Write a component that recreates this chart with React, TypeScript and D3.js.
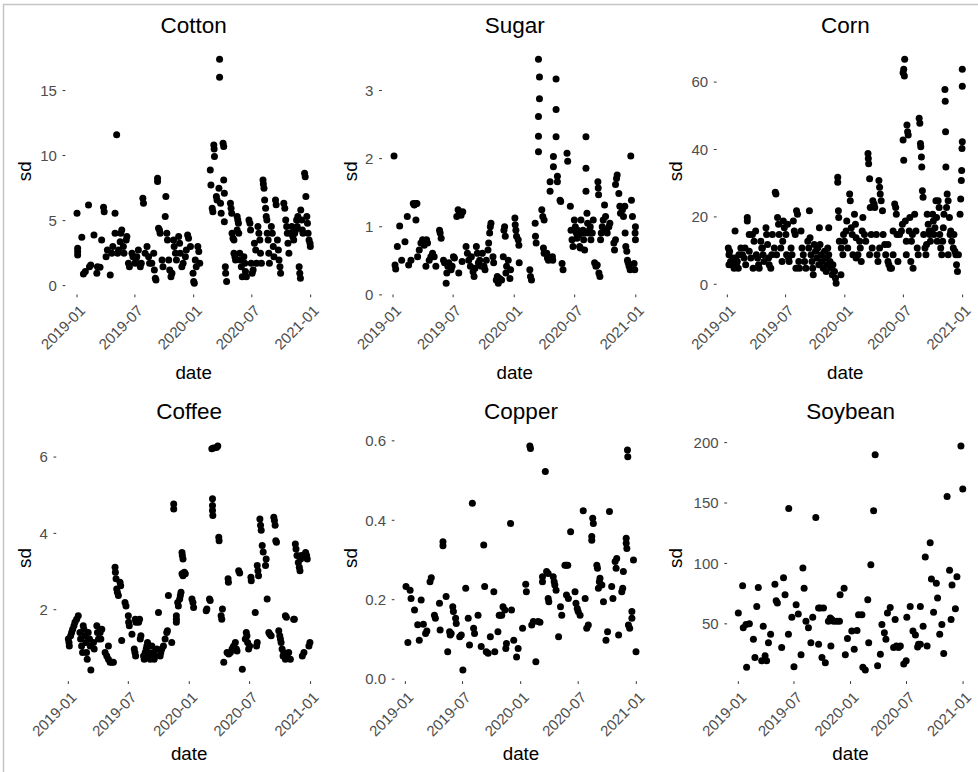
import React from "react";
import * as d3 from "d3";

// ---------- DATA (day = days since 2019-01-01, sd value) ----------
const commodities = ["Cotton", "Sugar", "Corn", "Coffee", "Copper", "Soybean"];
const xTickLabels = ["2019-01", "2019-07", "2020-01", "2020-07", "2021-01"];
const cottonTicks = [0, 5, 10, 15];
const sugarTicks = [0, 1, 2, 3];
const cornTicks = [0, 20, 40, 60];
const coffeeTicks = [2, 4, 6];
const copperTicks = [0, 0.2, 0.4, 0.6];
const soybeanTicks = [50, 100, 150, 200];

const cottonData: [number, number][] = [
  [0,5.56],[2,2.87],[2,2.62],[2,2.36],[15,3.72],[20,0.9],[26,1.08],[36,6.2],[39,1.46],[43,1.59],[53,3.9],[62,0.95],[64,1.46],[72,1.41],[77,3.51],[83,6.03],[85,5.69],[91,2.23],[95,2.74],[104,0.82],[109,2.49],[112,3.0],[119,5.56],[119,4.03],[124,11.6],[127,2.49],[130,2.74],[135,3.38],[137,4.03],[140,4.28],[145,3.0],[147,2.49],[154,3.51],[156,3.77],[161,1.72],[164,1.46],[172,2.49],[175,2.23],[182,1.72],[184,1.97],[187,2.23],[192,2.74],[198,1.46],[201,1.72],[206,6.72],[208,6.33],[213,2.49],[219,3.0],[224,2.23],[227,1.72],[234,1.72],[240,2.49],[242,1.21],[245,0.56],[247,0.44],[252,8.26],[252,8.0],[255,4.41],[258,4.28],[260,4.03],[266,1.97],[269,1.46],[276,5.31],[278,6.85],[281,4.03],[283,3.51],[287,1.97],[290,1.21],[294,0.69],[297,0.95],[302,3.51],[304,3.0],[308,2.49],[311,1.97],[318,3.77],[321,3.26],[323,2.49],[328,1.46],[332,1.72],[339,2.23],[342,2.74],[346,3.9],[349,3.64],[355,3.0],[363,0.95],[365,0.31],[367,0.18],[370,1.97],[373,1.46],[378,3.0],[381,2.62],[384,1.72],[417,8.9],[419,7.74],[423,5.95],[425,5.69],[428,10.82],[429,10.51],[430,9.92],[436,6.85],[438,6.59],[444,7.49],[446,17.41],[446,16.03],[449,6.33],[451,5.56],[457,10.95],[459,10.69],[459,8.13],[461,7.1],[461,4.92],[464,1.46],[465,0.95],[468,0.31],[480,6.33],[482,5.95],[484,5.56],[485,4.03],[488,3.64],[491,3.51],[491,2.49],[494,2.23],[496,1.97],[501,5.31],[503,5.05],[505,4.79],[501,4.28],[506,4.03],[509,2.49],[511,1.97],[514,1.46],[517,0.69],[522,2.23],[525,1.72],[527,1.08],[530,0.69],[538,5.05],[541,4.79],[543,4.28],[545,1.72],[548,0.95],[551,1.21],[555,3.26],[559,2.74],[562,1.72],[566,4.54],[569,4.03],[572,3.51],[574,2.49],[577,1.72],[582,8.13],[583,7.82],[585,7.49],[587,6.59],[590,5.95],[592,5.31],[594,5.05],[595,4.03],[598,3.51],[600,2.49],[602,1.72],[608,4.54],[611,4.03],[614,3.0],[616,2.23],[621,6.59],[623,6.21],[627,3.51],[630,2.74],[632,1.97],[635,1.46],[637,0.95],[647,6.33],[650,5.95],[653,5.05],[656,4.54],[658,4.03],[660,3.26],[663,2.49],[668,4.03],[672,4.54],[675,3.77],[678,3.51],[681,4.03],[684,4.28],[687,5.05],[689,4.54],[691,5.31],[695,1.46],[697,0.95],[699,0.56],[700,5.82],[703,5.05],[705,4.28],[707,4.03],[712,8.64],[714,8.38],[716,6.85],[719,5.31],[721,4.79],[723,4.03],[726,3.51],[729,3.26],[730,3.0]
];

const sugarData: [number, number][] = [
  [3,2.04],[6,0.44],[8,0.38],[13,0.71],[20,1.01],[26,0.51],[36,0.78],[43,1.15],[47,0.44],[54,0.51],[61,1.34],[64,1.32],[69,1.34],[72,1.34],[69,1.1],[74,0.56],[79,0.66],[84,0.76],[89,0.81],[94,0.73],[97,0.78],[101,0.81],[104,0.76],[99,0.42],[109,0.51],[114,0.56],[119,0.61],[124,0.56],[129,0.42],[140,0.95],[142,0.91],[145,0.83],[152,0.51],[155,0.47],[160,0.17],[162,0.32],[165,0.42],[168,0.47],[175,0.37],[178,0.42],[182,0.56],[185,0.54],[192,1.15],[196,1.25],[200,1.2],[205,1.17],[210,1.22],[198,0.32],[208,0.49],[220,0.71],[224,0.61],[228,0.51],[233,0.42],[236,0.56],[241,0.34],[244,0.27],[247,0.39],[251,0.71],[254,0.61],[257,0.47],[261,0.51],[266,0.42],[269,0.61],[274,0.42],[277,0.37],[281,0.51],[286,0.66],[288,0.76],[291,0.91],[293,1.0],[295,1.05],[301,0.56],[303,0.47],[311,0.22],[314,0.27],[317,0.17],[321,0.24],[327,0.22],[332,0.56],[334,0.95],[336,1.0],[338,0.86],[340,0.32],[342,0.42],[347,0.51],[352,0.24],[354,0.37],[367,1.13],[368,1.03],[370,0.95],[372,0.86],[377,0.81],[379,0.73],[380,0.47],[412,0.37],[414,0.27],[417,0.22],[428,1.05],[429,0.86],[431,0.76],[438,3.46],[441,3.2],[441,2.88],[438,2.62],[438,2.33],[438,2.1],[448,1.25],[451,1.15],[455,1.1],[453,0.69],[455,0.61],[463,0.61],[465,0.54],[468,0.51],[480,0.56],[481,0.51],[491,3.17],[491,2.72],[491,2.32],[483,2.03],[483,1.88],[495,1.74],[495,1.66],[473,1.66],[473,1.52],[503,1.39],[505,1.37],[509,0.46],[512,0.37],[524,2.08],[526,1.96],[534,1.3],[536,0.95],[539,0.81],[542,0.71],[546,1.1],[549,1.0],[552,0.91],[554,0.83],[556,0.95],[559,0.88],[562,0.71],[564,0.69],[566,1.1],[569,0.91],[572,0.95],[574,0.81],[577,0.66],[579,0.91],[581,2.32],[581,1.86],[581,1.52],[584,1.2],[586,1.05],[589,0.91],[591,0.95],[594,1.0],[596,0.81],[600,0.91],[603,1.1],[607,0.47],[611,0.42],[615,0.44],[620,0.32],[623,0.27],[617,1.66],[618,1.57],[619,1.47],[625,0.81],[627,0.91],[630,1.0],[633,1.1],[637,1.32],[640,1.15],[643,0.95],[645,0.91],[650,1.0],[653,1.05],[665,0.76],[667,0.66],[670,0.81],[670,1.62],[673,1.71],[675,1.76],[680,1.49],[683,1.3],[685,1.2],[691,1.25],[694,1.15],[698,1.3],[699,0.91],[701,0.71],[704,0.64],[706,0.51],[708,0.47],[711,0.42],[714,0.37],[716,2.04],[718,1.39],[721,1.15],[730,1.0],[729,0.91],[730,0.81],[726,0.46],[728,0.37]
];

const cornData: [number, number][] = [
  [3,10.8],[5,8.8],[7,9.8],[10,6.8],[14,5.8],[16,7.8],[24,15.8],[26,7.8],[28,5.8],[31,6.8],[42,10.8],[47,8.8],[52,7.8],[57,5.8],[62,19.8],[62,18.8],[68,14.8],[68,9.8],[78,14.8],[83,12.8],[88,15.8],[90,8.8],[94,7.8],[97,5.8],[104,12.8],[107,10.8],[111,8.8],[114,6.8],[120,16.8],[122,14.8],[125,11.8],[128,7.8],[130,5.8],[140,14.8],[146,10.8],[149,27.3],[151,26.8],[153,8.8],[156,19.8],[159,17.8],[161,14.8],[166,10.8],[170,6.8],[174,18.8],[177,16.8],[182,14.8],[187,17.8],[190,7.8],[192,6.8],[198,10.8],[201,8.8],[205,18.8],[208,15.8],[211,14.8],[215,21.8],[218,20.8],[222,6.8],[224,4.8],[229,15.8],[232,10.8],[236,8.8],[240,6.8],[244,4.8],[250,12.8],[253,10.8],[255,21.8],[260,8.8],[263,6.8],[265,4.8],[270,11.8],[274,9.8],[278,7.8],[281,10.8],[284,5.8],[286,16.8],[291,8.8],[294,6.8],[298,4.8],[302,9.8],[305,7.8],[309,5.8],[312,10.8],[315,8.8],[319,6.8],[322,4.8],[326,2.8],[328,5.8],[333,3.8],[336,1.8],[338,0.3],[343,31.8],[343,30.3],[345,21.8],[346,19.8],[348,12.8],[354,10.8],[359,8.8],[364,12.8],[369,15.8],[371,18.8],[374,10.8],[380,26.8],[382,24.8],[385,16.8],[388,14.8],[390,8.8],[395,20.8],[398,17.8],[400,13.8],[406,8.8],[411,12.8],[413,10.8],[419,15.8],[421,19.8],[426,14.8],[430,12.8],[437,38.8],[438,37.3],[439,35.8],[442,31.3],[444,22.8],[447,14.8],[450,10.8],[452,24.8],[456,23.8],[458,22.8],[463,14.8],[465,8.8],[468,6.8],[471,30.8],[473,28.8],[475,26.8],[478,24.8],[482,21.8],[484,14.8],[489,11.8],[492,8.8],[499,6.8],[502,5.8],[506,4.8],[510,4.8],[515,15.8],[520,23.8],[523,22.8],[525,20.8],[527,14.8],[530,6.8],[541,15.8],[544,17.8],[546,62.8],[548,63.8],[550,61.8],[551,66.8],[546,42.8],[548,36.8],[553,18.8],[556,12.8],[558,47.3],[560,45.3],[562,44.3],[565,15.8],[567,19.8],[572,12.8],[575,14.8],[577,4.8],[582,20.8],[586,15.8],[590,10.8],[593,8.8],[596,49.3],[598,47.8],[600,41.8],[601,40.8],[603,37.8],[604,34.8],[606,27.8],[608,25.8],[610,14.8],[614,10.8],[617,8.8],[621,20.8],[624,17.8],[627,15.8],[629,14.8],[631,12.8],[634,15.8],[638,20.8],[640,18.8],[642,14.8],[645,16.8],[648,24.8],[650,19.8],[652,12.8],[655,24.8],[658,22.8],[666,8.8],[669,12.8],[671,16.8],[673,20.8],[676,57.8],[677,54.3],[678,45.3],[679,34.8],[681,22.8],[683,26.8],[686,24.8],[690,19.8],[692,14.8],[694,15.8],[697,12.8],[702,10.8],[704,14.8],[707,9.8],[710,8.8],[712,5.8],[718,8.8],[723,20.8],[725,25.3],[727,30.8],[728,33.8],[729,40.3],[730,42.3],[730,58.8],[730,63.8],
  [5,5.8],[21,4.8],[34,4.8],[36,8.8],[55,10.8],[73,7.8],[80,4.8],[99,4.8],[109,10.8],[135,4.8],[138,8.8],[172,12.8],[184,8.8],[213,4.8],[257,13.8],[267,2.8],[288,11.8],[307,3.8],[315,16.8],[353,2.8],[361,14.8],[400,7.8],[416,6.8],[442,8.8],[473,10.8],[499,11.8],[515,8.8],[535,14.8],[556,8.8],[570,6.8],[619,11.8],[660,14.8],[663,10.8],[686,8.8],[715,3.8]
];

const coffeeData: [number, number][] = [
  [0,1.23],[2,1.14],[3,1.05],[7,1.32],[10,1.4],[13,1.49],[17,1.58],[20,1.67],[25,1.75],[30,1.84],[35,1.4],[37,1.23],[40,1.05],[43,0.88],[45,1.58],[47,1.49],[50,1.32],[53,1.14],[55,0.88],[57,0.7],[68,0.42],[60,1.4],[64,1.23],[66,1.05],[76,1.14],[78,0.97],[86,1.58],[88,1.4],[91,1.23],[96,1.4],[98,1.23],[101,1.49],[111,0.88],[116,0.79],[121,0.7],[126,0.62],[131,0.62],[136,0.62],[121,1.05],[141,3.11],[142,2.98],[144,2.81],[146,2.54],[148,2.46],[151,2.37],[156,2.72],[158,2.63],[161,1.19],[171,2.19],[174,2.1],[181,1.84],[182,1.67],[184,1.58],[192,1.36],[202,1.75],[204,1.67],[199,0.97],[201,0.88],[203,0.79],[212,1.67],[215,1.75],[217,1.23],[219,1.32],[227,0.79],[229,0.7],[232,0.88],[235,0.97],[237,1.05],[239,1.14],[242,0.88],[245,0.79],[247,0.7],[249,0.79],[252,1.05],[257,0.88],[259,0.7],[262,0.79],[267,0.97],[272,1.93],[277,0.79],[279,0.88],[282,0.97],[287,1.05],[292,1.23],[297,1.4],[299,1.45],[302,2.37],[312,1.14],[318,4.77],[318,4.64],[326,1.84],[326,1.75],[326,1.67],[330,2.19],[332,2.1],[336,2.28],[338,2.37],[340,2.46],[343,3.5],[344,3.42],[346,3.33],[343,2.94],[346,2.89],[350,2.98],[353,2.94],[373,2.28],[376,2.19],[378,2.06],[416,1.97],[418,2.02],[426,2.28],[428,2.24],[433,6.22],[438,6.24],[447,6.25],[451,6.29],[435,4.91],[435,4.73],[435,4.6],[436,4.47],[454,3.9],[455,3.81],[461,1.84],[463,1.75],[465,2.02],[469,0.62],[479,0.88],[484,0.84],[489,0.88],[494,0.97],[497,1.01],[499,1.05],[504,1.14],[507,0.97],[509,0.92],[482,2.81],[483,2.72],[514,3.02],[517,2.96],[525,0.44],[534,1.23],[537,1.4],[539,1.32],[541,1.14],[544,0.97],[547,1.05],[551,2.85],[552,2.76],[564,1.93],[568,1.05],[570,1.14],[570,3.16],[572,3.02],[574,2.89],[578,4.38],[580,4.21],[582,4.08],[585,3.68],[588,3.51],[595,3.16],[597,3.33],[600,2.28],[605,1.4],[608,1.36],[612,1.32],[620,4.42],[622,4.34],[624,4.21],[626,3.81],[628,3.77],[635,1.45],[638,1.32],[640,1.23],[642,1.14],[645,0.97],[648,0.79],[650,0.88],[655,0.7],[660,0.79],[665,0.88],[670,0.7],[655,1.84],[658,1.8],[680,1.75],[682,1.75],[685,3.72],[687,3.59],[690,3.42],[694,3.24],[697,3.11],[699,3.02],[701,3.33],[703,3.42],[706,0.79],[711,0.88],[716,3.5],[719,3.42],[721,3.33],[726,1.05],[729,1.14]
];

const copperData: [number, number][] = [
  [2,0.233],[8,0.092],[15,0.224],[18,0.203],[29,0.174],[39,0.137],[44,0.098],[50,0.199],[57,0.138],[64,0.115],[68,0.121],[78,0.245],[82,0.255],[92,0.161],[95,0.153],[108,0.191],[110,0.124],[119,0.346],[119,0.336],[129,0.208],[134,0.069],[140,0.119],[142,0.111],[145,0.115],[150,0.182],[152,0.17],[159,0.153],[161,0.14],[172,0.107],[177,0.111],[182,0.023],[191,0.229],[199,0.153],[203,0.086],[212,0.443],[216,0.128],[219,0.115],[230,0.161],[240,0.082],[248,0.338],[251,0.233],[256,0.069],[262,0.065],[269,0.107],[280,0.22],[283,0.069],[293,0.119],[297,0.161],[300,0.161],[305,0.161],[309,0.182],[315,0.174],[318,0.077],[320,0.09],[333,0.392],[336,0.174],[343,0.098],[352,0.056],[357,0.077],[371,0.128],[381,0.239],[383,0.22],[394,0.587],[396,0.581],[400,0.136],[405,0.145],[413,0.044],[420,0.145],[426,0.143],[434,0.258],[434,0.245],[443,0.523],[447,0.271],[452,0.266],[452,0.203],[454,0.195],[468,0.258],[471,0.245],[473,0.237],[477,0.224],[485,0.107],[491,0.182],[495,0.161],[505,0.287],[510,0.287],[514,0.287],[510,0.212],[516,0.203],[523,0.371],[537,0.22],[540,0.191],[544,0.178],[547,0.17],[553,0.161],[563,0.424],[569,0.203],[574,0.128],[579,0.136],[593,0.405],[595,0.392],[590,0.359],[590,0.35],[606,0.287],[608,0.279],[611,0.229],[614,0.245],[616,0.254],[622,0.237],[627,0.195],[635,0.098],[640,0.119],[646,0.422],[653,0.233],[657,0.203],[664,0.296],[667,0.279],[669,0.304],[675,0.111],[685,0.22],[688,0.229],[690,0.271],[699,0.355],[699,0.342],[701,0.329],[703,0.577],[704,0.56],[706,0.136],[710,0.128],[717,0.17],[717,0.153],[722,0.3],[730,0.069]
];

const soybeanData: [number, number][] = [
  [0,59.0],[14,81.6],[16,46.7],[25,49.4],[27,14.0],[36,50.0],[49,37.2],[54,22.2],[60,64.4],[65,80.0],[76,19.4],[81,48.0],[87,23.5],[92,19.4],[98,34.4],[105,41.3],[119,82.7],[123,69.1],[127,67.2],[141,30.4],[147,88.2],[152,74.0],[163,41.3],[164,145.4],[174,55.5],[181,14.5],[188,65.8],[195,58.2],[204,24.4],[210,96.3],[214,79.5],[220,52.2],[228,46.7],[236,34.4],[242,55.5],[252,138.1],[261,63.1],[266,63.1],[277,63.1],[261,33.1],[272,22.2],[283,17.8],[293,52.2],[299,54.9],[304,53.5],[310,52.2],[320,52.2],[329,52.2],[301,31.7],[331,74.0],[344,79.5],[348,24.4],[355,37.8],[369,44.0],[377,29.0],[386,44.5],[391,57.6],[402,57.6],[405,14.0],[413,11.8],[421,69.9],[424,34.4],[431,99.0],[440,143.6],[445,189.9],[453,15.4],[462,24.9],[467,49.4],[475,42.6],[480,37.2],[485,59.0],[494,63.6],[505,30.4],[514,31.7],[521,30.4],[527,31.7],[510,53.5],[538,16.7],[546,19.4],[548,55.5],[559,64.4],[568,44.0],[576,40.8],[583,30.9],[586,33.1],[592,33.1],[592,64.4],[601,48.0],[608,105.4],[614,31.7],[624,117.1],[628,87.1],[635,59.5],[644,83.5],[648,71.3],[655,41.3],[662,49.4],[668,25.4],[679,155.3],[687,94.4],[692,53.5],[695,82.2],[706,62.5],[711,89.0],[724,197.2],[730,161.7]
];

const seriesData = [cottonData, sugarData, cornData, coffeeData, copperData, soybeanData];
const seriesTicks = [cottonTicks, sugarTicks, cornTicks, coffeeTicks, copperTicks, soybeanTicks];

// ---------- LAYOUT ----------
const W = 978;
const H = 772;
const FONT = "'Liberation Sans', Arial, Helvetica, sans-serif";
const rows = [
  { top: 48, bottom: 294.5, xTitleOffset: 84, titleOffset: 15.5 },
  { top: 434.8, bottom: 681.2, xTitleOffset: 79, titleOffset: 15.5 },
];
const cellXs = [0, 326, 651];
const panelLefts = [65.35, 381.95, 716.6, 56.25, 394.5, 727.1];
const panelRights = [322, 647.5, 974, 322, 647.5, 974];
const tickFormats = [d3.format("d"), d3.format("d"), d3.format("d"), d3.format("d"), d3.format(".1f"), d3.format("d")];

const START = Date.UTC(2019, 0, 1);
const parseMonth = d3.utcParse("%Y-%m");
const fmtMonth = d3.utcFormat("%Y-%m");

function Panel({ index }: { index: number }) {
  const data = seriesData[index];
  const row = rows[Math.floor(index / 3)];
  const col = index % 3;
  const left = panelLefts[index];
  const right = panelRights[index];
  const { top, bottom } = row;

  const dates = data.map((d) => d3.utcDay.offset(new Date(START), d[0]));
  const [dMin, dMax] = d3.extent(dates) as [Date, Date];
  const dPad = (+dMax - +dMin) * 0.05;
  const x = d3
    .scaleUtc()
    .domain([new Date(+dMin - dPad), new Date(+dMax + dPad)])
    .range([left, right]);

  const [vMin, vMax] = d3.extent(data, (d) => d[1]) as [number, number];
  const vPad = (vMax - vMin) * 0.05;
  const y = d3.scaleLinear().domain([vMin - vPad, vMax + vPad]).range([bottom, top]);

  const xTicks = xTickLabels.map((s) => parseMonth(s) as Date);
  const yTicks = seriesTicks[index];
  const fmt = tickFormats[index];
  const cx = (left + right) / 2;

  return (
    <g>
      <text x={cx} y={top - row.titleOffset} textAnchor="middle" fontSize={22.5} fill="#000">
        {commodities[index]}
      </text>
      {yTicks.map((t) => (
        <g key={"y" + t}>
          <line x1={left - 2.75} x2={left} y1={y(t)} y2={y(t)} stroke="#333" strokeWidth={1} />
          <text x={left - 8.5} y={y(t)} dy="0.35em" textAnchor="end" fontSize={15} fill="#4D4D4D">
            {fmt(t)}
          </text>
        </g>
      ))}
      {xTicks.map((t) => (
        <g key={"x" + +t}>
          <line x1={x(t)} x2={x(t)} y1={bottom} y2={bottom + 2.75} stroke="#333" strokeWidth={1} />
          <text
            transform={`translate(${x(t) + 1.5},${bottom + 9.5}) rotate(-45)`}
            dy="0.72em"
            textAnchor="end"
            fontSize={15}
            fill="#4D4D4D"
          >
            {fmtMonth(t)}
          </text>
        </g>
      ))}
      <g>
        {data.map((d, i) => (
          <circle key={i} cx={x(dates[i])} cy={y(d[1])} r={3.5} fill="#000" />
        ))}
      </g>
      <text x={cx} y={bottom + row.xTitleOffset} textAnchor="middle" fontSize={18.75} fill="#000">
        date
      </text>
      <text
        transform={`translate(${cellXs[col] + 31},${(top + bottom) / 2}) rotate(-90)`}
        textAnchor="middle"
        fontSize={18.75}
        fill="#000"
      >
        sd
      </text>
    </g>
  );
}

export default function App() {
  return (
    <svg
      width={W}
      height={H}
      style={{ position: "absolute", left: 0, top: 0, background: "#fff" }}
      fontFamily={FONT}
    >
      <rect x={0} y={0} width={W} height={H} fill="#fff" />
      <line x1={3} x2={W} y1={4.5} y2={4.5} stroke="#c4c4c4" strokeWidth={1.5} />
      <line x1={3.5} x2={3.5} y1={4} y2={H} stroke="#c4c4c4" strokeWidth={1.5} />
      {commodities.map((_, i) => (
        <Panel key={i} index={i} />
      ))}
    </svg>
  );
}
